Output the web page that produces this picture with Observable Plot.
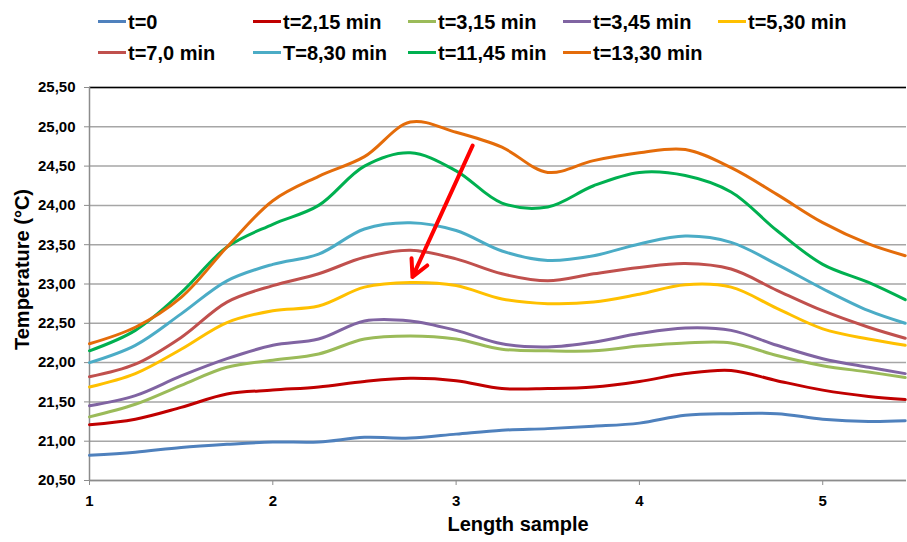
<!DOCTYPE html>
<html><head><meta charset="utf-8">
<script src="https://cdn.jsdelivr.net/npm/d3@7"></script>
<script src="https://cdn.jsdelivr.net/npm/@observablehq/plot@0.6"></script>
<style>
body{margin:0;background:#fff;font-family:"Liberation Sans",Arial,sans-serif;}
#wrap{width:907px;}
#legend{position:relative;height:70px;}
.item{position:absolute;display:flex;align-items:center;font-weight:bold;font-size:20px;line-height:24px;height:24px;color:#000;white-space:nowrap;}
.sw{width:28px;height:3px;margin-right:2px;}
</style></head><body>
<div id="wrap"><div id="legend"></div><div id="chart"></div></div>
<script>
const xs = [1,1.25,1.5,1.75,2,2.25,2.5,2.75,3,3.25,3.5,3.75,4,4.25,4.5,4.75,5,5.25,5.45];
const seriesNames = ["t=0","t=2,15 min","t=3,15 min","t=3,45 min","t=5,30 min","t=7,0 min","T=8,30 min","t=11,45 min","t=13,30 min"];
const seriesColors = ["#4f81bd","#c00000","#9bbb59","#8064a2","#ffc000","#c0504d","#4bacc6","#00b050","#e46c0a"];
const t0    = [20.82,20.86,20.92,20.96,20.99,20.99,21.05,21.04,21.09,21.14,21.16,21.19,21.23,21.33,21.35,21.35,21.28,21.25,21.26];
const t2_15 = [21.21,21.28,21.43,21.60,21.65,21.69,21.76,21.80,21.77,21.67,21.67,21.69,21.76,21.86,21.90,21.77,21.65,21.57,21.53];
const t3_15 = [21.31,21.47,21.71,21.94,22.03,22.11,22.30,22.34,22.30,22.17,22.15,22.15,22.21,22.25,22.25,22.09,21.96,21.88,21.81];
const t3_45 = [21.45,21.58,21.83,22.05,22.22,22.30,22.53,22.53,22.41,22.24,22.20,22.26,22.37,22.44,22.41,22.22,22.05,21.94,21.86];
const t5_30 = [21.69,21.86,22.17,22.51,22.66,22.72,22.96,23.02,22.98,22.81,22.75,22.77,22.87,22.99,22.96,22.69,22.43,22.30,22.22];
const t7_0  = [21.82,21.98,22.32,22.77,22.98,23.13,23.34,23.43,23.32,23.13,23.04,23.13,23.21,23.26,23.19,22.92,22.66,22.45,22.31];
const t8_30 = [22.00,22.22,22.62,23.04,23.25,23.38,23.70,23.78,23.68,23.42,23.30,23.36,23.51,23.61,23.53,23.25,22.94,22.66,22.50];
const t11_45= [22.15,22.41,22.89,23.47,23.76,24.00,24.50,24.67,24.44,24.03,23.98,24.25,24.42,24.38,24.17,23.68,23.25,23.02,22.80];
const t13_30= [22.24,22.45,22.83,23.47,24.06,24.37,24.62,25.06,24.93,24.74,24.42,24.57,24.67,24.71,24.48,24.14,23.78,23.51,23.36];
const yTicks = [20.5,21,21.5,22,22.5,23,23.5,24,24.5,25,25.5];
const xTicks = [1,2,3,4,5];
const arrowFrom = {x:3.09, y:24.76};
const arrowTo = {x:2.762, y:23.09};

const allSeries = [t0,t2_15,t3_15,t3_45,t5_30,t7_0,t8_30,t11_45,t13_30];
const rows = [];
allSeries.forEach((vals,i)=>vals.forEach((v,j)=>rows.push({x:xs[j], T:v, series:seriesNames[i]})));

// legend
const leg = document.getElementById("legend");
seriesNames.forEach((n,i)=>{
  const col=i%5,row=Math.floor(i/5);
  const d=document.createElement("div");
  d.className="item";
  d.style.left=(98+col*155)+"px";
  d.style.top=(9.5+row*31)+"px";
  d.innerHTML=`<span class="sw" style="background:${seriesColors[i]}"></span><span>${n}</span>`;
  leg.appendChild(d);
});

const fmt = d => d.toFixed(2).replace(".", ",");
const chart = Plot.plot({
  width: 907, height: 472,
  marginLeft: 89, marginRight: 1, marginTop: 17, marginBottom: 62,
  style: {fontFamily: "'Liberation Sans', Arial, sans-serif", fontWeight: "bold", fontSize: "15px", color: "#000", background: "#fff"},
  x: {domain: [1, 5.457]},
  y: {domain: [20.5, 25.5]},
  color: {domain: seriesNames, range: seriesColors},
  marks: [
    Plot.gridY(yTicks, {stroke: "#a6a6a6", strokeOpacity: 1, strokeWidth: 1.5}),
    Plot.ruleY([25.5], {stroke: "#000", strokeWidth: 1.3}),
    Plot.ruleY([20.5], {stroke: "#8c8c8c", strokeWidth: 1.5}),
    Plot.ruleX([1], {stroke: "#8c8c8c", strokeWidth: 1.5}),
    Plot.axisY(yTicks, {tickSize: 5, tickPadding: 9, tickFormat: fmt, stroke: "#8c8c8c", label: null, fontSize: 15, fontWeight: "bold"}),
    Plot.axisX(xTicks, {tickSize: 5, tickPadding: 10, tickFormat: d => String(d), stroke: "#8c8c8c", label: null, fontSize: 15, fontWeight: "bold"}),
    Plot.line(rows, {x: "x", y: "T", z: "series", stroke: "series", strokeWidth: 3, curve: "catmull-rom"}),
    Plot.arrow([0], {x1: () => arrowFrom.x, y1: () => arrowFrom.y, x2: () => arrowTo.x, y2: () => arrowTo.y, stroke: "#ff0000", strokeWidth: 4, headLength: 7, headAngle: 55, bend: 0}),
    Plot.text(["Length sample"], {text: d => d, frameAnchor: "bottom", dy: 50, dx: 20, fontSize: 20, fontWeight: "bold", fill: "#000"}),
    Plot.text(["Temperature (°C)"], {text: d => d, frameAnchor: "left", rotate: -90, dx: -67, dy: 66, fontSize: 20, fontWeight: "bold", fill: "#000"})
  ]
});
document.getElementById("chart").appendChild(chart);
</script>
</body></html>
